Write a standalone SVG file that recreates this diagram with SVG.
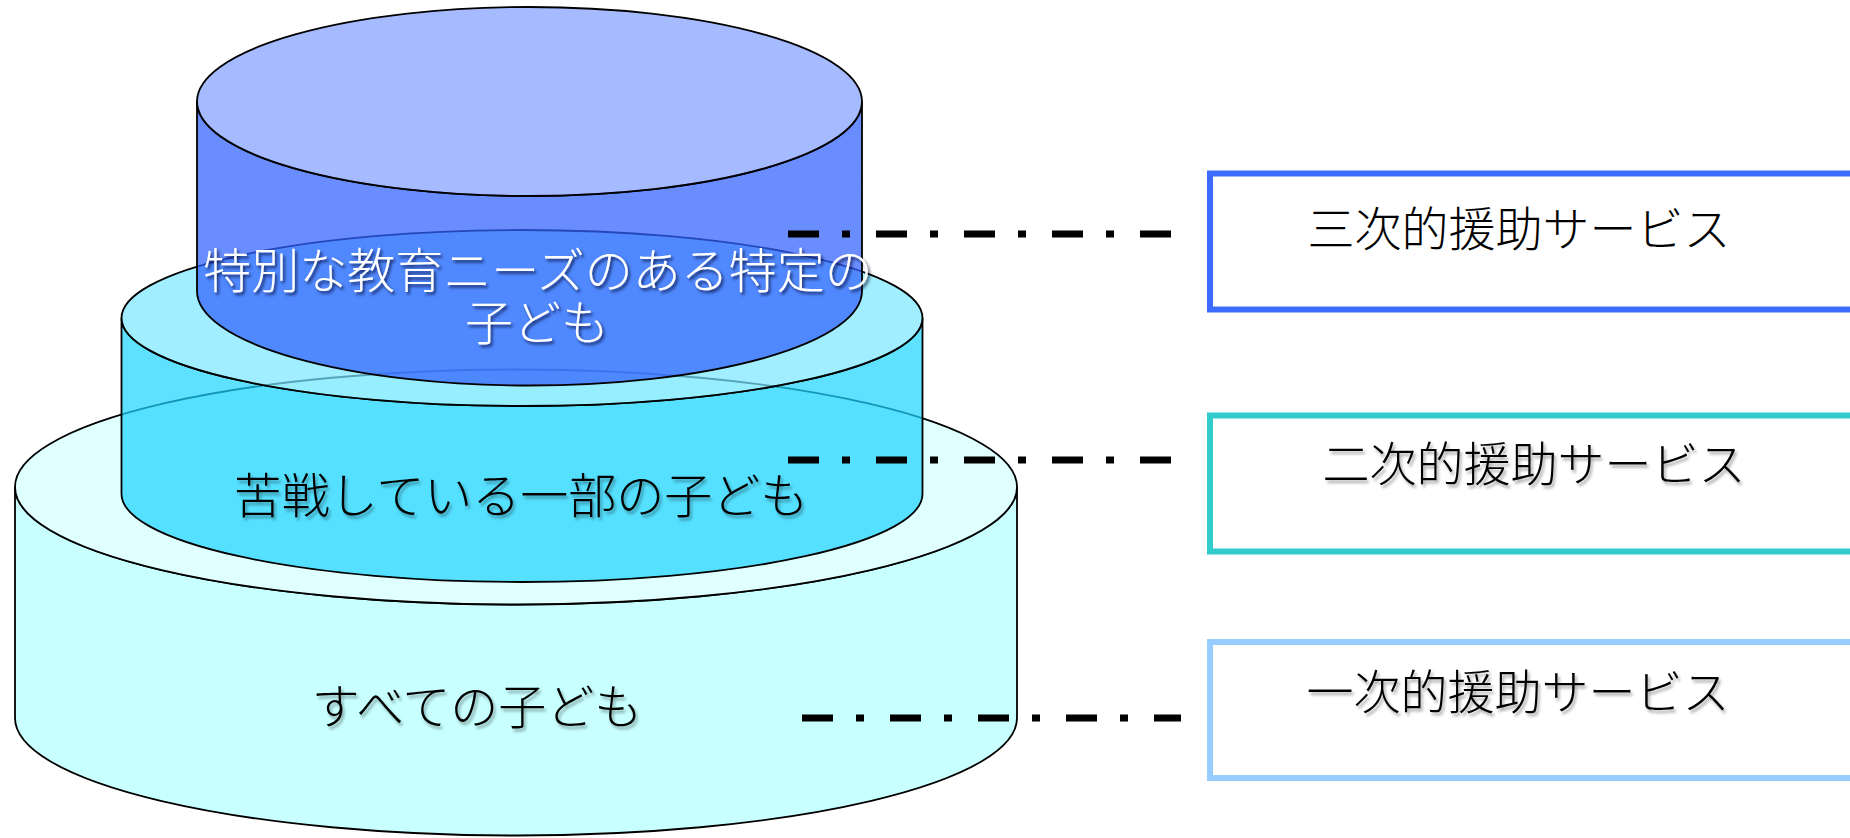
<svg xmlns="http://www.w3.org/2000/svg" width="1850" height="838" viewBox="0 0 1850 838">
  <defs>
    <filter id="shadowDark" x="-5%" y="-20%" width="110%" height="150%">
      <feDropShadow dx="2" dy="2.5" stdDeviation="1.4" flood-color="#000020" flood-opacity="0.7"/>
    </filter>
    <filter id="shadowGrey" x="-5%" y="-20%" width="110%" height="150%">
      <feDropShadow dx="2" dy="3" stdDeviation="1.5" flood-color="#000000" flood-opacity="0.35"/>
    </filter>
  </defs>
  <style>
    .outline { stroke: #000000; stroke-width: 1.8; }
    .label { font-family: "Noto Sans CJK JP", "Noto Sans CJK SC", sans-serif; font-size: 48px; font-weight: 300; text-anchor: middle; }
    .white { fill: #ffffff; filter: url(#shadowDark); }
    .black { fill: #000000; }
    .soft { filter: url(#shadowGrey); }
    .box { fill: #ffffff; stroke-width: 6; }
    .tier { font-size: 47px; }
    .leader { fill: none; stroke: #000000; stroke-width: 7; stroke-dasharray: 31 23 8 26; }
  </style>

  <rect x="0" y="0" width="1850" height="838" fill="#ffffff"/>

  <!-- base tier: all children -->
  <g id="tier-all">
    <path class="outline" fill="#c8ffff" d="M15,487 L15,718 A501,117.5 0 0 0 1017,718 L1017,487 A501,117.5 0 0 1 15,487 Z"/>
    <ellipse class="outline" fill="#e0ffff" cx="516" cy="487" rx="501" ry="117.5"/>
    <text class="label black soft" x="477" y="724">すべての子ども</text>
  </g>

  <!-- middle tier: some children who struggle -->
  <g id="tier-some">
    <path class="outline" fill="rgb(28,211,255)" fill-opacity="0.71" d="M121.5,318 L121.5,494 A400.5,88 0 0 0 922.5,494 L922.5,318 A400.5,88 0 0 1 121.5,318 Z"/>
    <ellipse class="outline" fill="rgb(121,231,255)" fill-opacity="0.71" cx="522" cy="318" rx="400.5" ry="88"/>
    <text class="label black soft" x="521" y="513">苦戦している一部の子ども</text>
  </g>

  <!-- top tier: specific children with special educational needs -->
  <g id="tier-specific">
    <path class="outline" fill="rgb(50,97,255)" fill-opacity="0.73" d="M197,101.5 L197,291 A332.5,94.5 0 0 0 862,291 L862,101.5 A332.5,94.5 0 0 1 197,101.5 Z"/>
    <ellipse class="outline" fill="rgb(132,160,255)" fill-opacity="0.73" cx="529.5" cy="101.5" rx="332.5" ry="94.5"/>
    <text class="label white"><tspan x="538" y="288">特別な教育ニーズのある特定の</tspan><tspan x="537" y="340">子ども</tspan></text>
  </g>

  <!-- service boxes -->
  <g id="service-tertiary">
    <rect class="box" x="1210" y="173.5" width="660" height="136" stroke="#3d6bff"/>
    <text class="label black tier" x="1519" y="246">三次的援助サービス</text>
  </g>
  <g id="service-secondary">
    <rect class="box" x="1210" y="415.5" width="660" height="136" stroke="#33cccc"/>
    <text class="label black tier soft" x="1534" y="481">二次的援助サービス</text>
  </g>
  <g id="service-primary">
    <rect class="box" x="1210" y="642" width="660" height="136" stroke="#99ccff"/>
    <text class="label black tier soft" x="1518" y="709">一次的援助サービス</text>
  </g>

  <!-- leader lines from tiers to services -->
  <g id="connectors">
    <line class="leader" x1="788" y1="234" x2="1171" y2="234"/>
    <line class="leader" x1="788" y1="460" x2="1171" y2="460"/>
    <line class="leader" x1="802" y1="718" x2="1181" y2="718"/>
  </g>
</svg>
